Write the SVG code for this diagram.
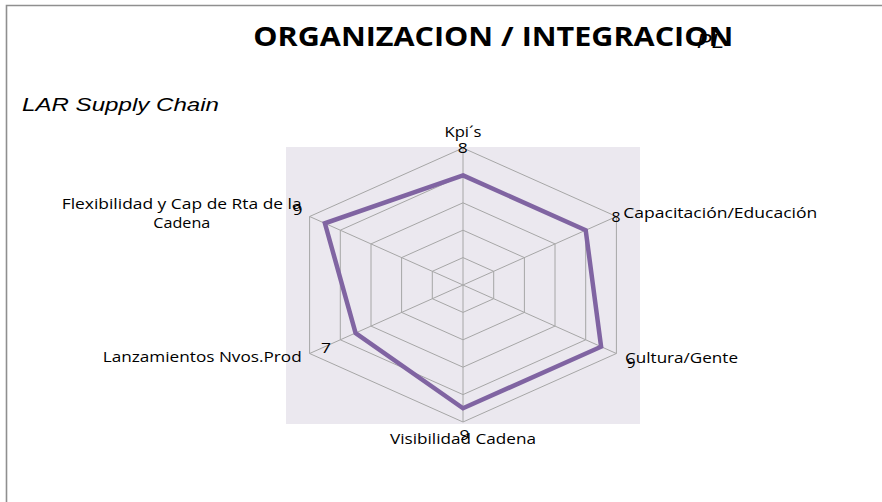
<svg xmlns="http://www.w3.org/2000/svg" width="882" height="502" viewBox="0 0 882 502">
<style>
.lbl{font-family:"Open Sans","Noto Sans",sans-serif;font-size:14px;fill:#000}
.val{font-family:"Open Sans","Noto Sans",sans-serif;font-size:14px;fill:#000;text-anchor:middle}
.grid{fill:none;stroke:#A6A6A6;stroke-width:1}
.data{fill:none;stroke:#8064A2;stroke-width:4.5;stroke-linejoin:miter}
</style>
<rect x="0" y="0" width="882" height="502" fill="#FFFFFF"/>
<path d="M6.5,502 V5.5 H882" fill="none" stroke="#8F8F8F" stroke-width="1.6"/>
<g id="title">
<text x="253.3" y="46" font-family="'Open Sans','Noto Sans',sans-serif" font-weight="bold" font-size="27" textLength="480" lengthAdjust="spacingAndGlyphs">ORGANIZACION / INTEGRACION</text>
<text x="697" y="48" font-family="'Liberation Sans',sans-serif" font-style="italic" font-size="21" textLength="27" lengthAdjust="spacingAndGlyphs">PL</text>
</g>
<g id="subtitle">
<text x="22" y="111" font-family="'Liberation Sans',Arial,sans-serif" font-style="italic" font-size="19" textLength="197" lengthAdjust="spacingAndGlyphs">LAR Supply Chain</text>
</g>
<g id="plot-area">
<rect x="286" y="147" width="354" height="277" fill="#EBE8EF"/>
</g>
<g id="grid">
<polygon class="grid" points="463,148 616.4,216.5 616.4,353.5 463,422 309.6,353.5 309.6,216.5"/>
<polygon class="grid" points="463,175.4 585.7,230.2 585.7,339.8 463,394.6 340.3,339.8 340.3,230.2"/>
<polygon class="grid" points="463,202.8 555,243.9 555,326.1 463,367.2 371,326.1 371,243.9"/>
<polygon class="grid" points="463,230.2 524.4,257.6 524.4,312.4 463,339.8 401.6,312.4 401.6,257.6"/>
<polygon class="grid" points="463,257.6 493.7,271.3 493.7,298.7 463,312.4 432.3,298.7 432.3,271.3"/>
<path class="grid" d="M463,285 L463,148 M463,285 L616.4,216.5 M463,285 L616.4,353.5 M463,285 L463,422 M463,285 L309.6,353.5 M463,285 L309.6,216.5"/>
</g>
<g id="connectors">
<polygon class="data" points="463,175.4 585.7,230.2 601.1,346.7 463,408.3 355.6,333 324.9,223.3"/>
</g>
<g id="axis-kpis">
<text class="lbl" x="463" y="136.7" text-anchor="middle" textLength="37" lengthAdjust="spacingAndGlyphs">Kpi´s</text>
<text class="val" x="462.7" y="153.3" textLength="10" lengthAdjust="spacingAndGlyphs">8</text>
</g>
<g id="axis-capacitacion">
<text class="lbl" x="623.3" y="218.3" textLength="194" lengthAdjust="spacingAndGlyphs">Capacitación/Educación</text>
<text class="val" x="616" y="221.7" textLength="9" lengthAdjust="spacingAndGlyphs">8</text>
</g>
<g id="axis-cultura">
<text class="lbl" x="625" y="362.7" textLength="113" lengthAdjust="spacingAndGlyphs">Cultura/Gente</text>
<text class="val" x="631" y="368" textLength="9" lengthAdjust="spacingAndGlyphs">9</text>
</g>
<g id="axis-visibilidad">
<text class="lbl" x="390" y="444" textLength="146" lengthAdjust="spacingAndGlyphs">Visibilidad Cadena</text>
<text class="val" x="464.5" y="440" textLength="10" lengthAdjust="spacingAndGlyphs">9</text>
</g>
<g id="axis-lanzamientos">
<text class="lbl" x="102.7" y="361.7" textLength="199" lengthAdjust="spacingAndGlyphs">Lanzamientos Nvos.Prod</text>
<text class="val" x="326" y="353" textLength="10" lengthAdjust="spacingAndGlyphs">7</text>
</g>
<g id="axis-flexibilidad">
<text class="lbl" x="61.7" y="209.3" textLength="240" lengthAdjust="spacingAndGlyphs">Flexibilidad y Cap de Rta de la</text>
<text class="lbl" x="153.3" y="228.3" textLength="57" lengthAdjust="spacingAndGlyphs">Cadena</text>
<text class="val" x="297.5" y="215" textLength="10" lengthAdjust="spacingAndGlyphs">9</text>
</g>
</svg>
